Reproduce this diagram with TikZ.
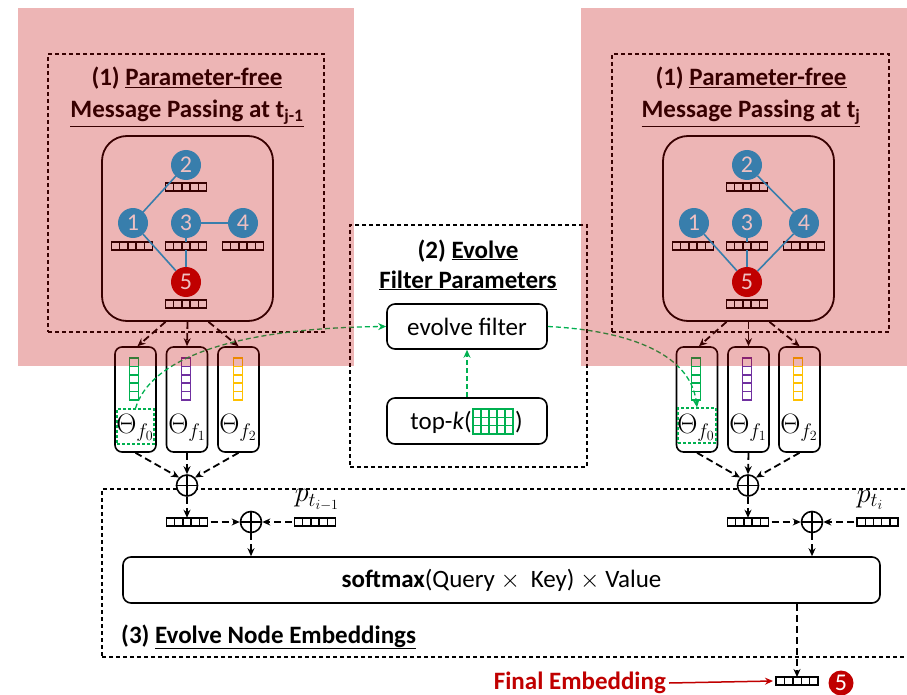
\RequirePackage{fix-cm}
\documentclass[tikz,border=0pt]{standalone}
\usepackage{fontspec}
\setmainfont{Carlito}
\usetikzlibrary{arrows.meta,calc}
\definecolor{nred}{RGB}{192,0,0}
\definecolor{nblue}{RGB}{56,126,172}
\definecolor{npink}{RGB}{238,192,194}
\definecolor{fgreen}{RGB}{0,176,80}
\definecolor{fpurple}{RGB}{112,48,160}
\definecolor{fgold}{RGB}{255,192,0}
\newcommand{\fsz}{\fontsize{25}{30}\selectfont}
\newcommand{\msz}{\fontsize{28}{32}\selectfont}
\newcommand{\uln}[1]{\underline{#1}}
\tikzset{
  dbox/.style={draw, dash pattern=on 4pt off 3pt, line width=1.2pt, inner sep=0pt},
  gbox/.style={draw, line width=1.8pt, rounded corners=25pt, inner sep=0pt},
  rbox/.style={draw, line width=1.6pt, rounded corners=8pt, inner sep=0pt, font=\fsz},
  ttl/.style={font=\fsz\bfseries, inner sep=0pt, anchor=base},
  gnode/.style={circle, inner sep=0pt, minimum size=30pt, fill=#1, font=\fontsize{24}{24}\selectfont},
  embar/.style={draw, fill=white, line width=1.6pt, minimum width=41pt, minimum height=8.5pt, inner sep=0pt, outer sep=0pt,
    path picture={\foreach \k in {1,2,3,4}{\draw[line width=1.4pt] ($(path picture bounding box.south west)!\k/5!(path picture bounding box.south east)$) -- ($(path picture bounding box.north west)!\k/5!(path picture bounding box.north east)$);}}},
  vbar/.style={draw=#1, fill=white, line width=1.5pt, minimum width=9pt, minimum height=42pt, inner sep=0pt,
    path picture={\foreach \k in {1,2,3,4}{\draw[#1, line width=1.5pt] ($(path picture bounding box.north west)!\k/5!(path picture bounding box.south west)$) -- ($(path picture bounding box.north east)!\k/5!(path picture bounding box.south east)$);}}},
  ggrid/.style={draw=fgreen, fill=white, line width=1.5pt, minimum width=40pt, minimum height=25pt, inner sep=0pt,
    path picture={\foreach \k in {1,2,3,4}{\draw[fgreen, line width=1.5pt] ($(path picture bounding box.south west)!\k/5!(path picture bounding box.south east)$) -- ($(path picture bounding box.north west)!\k/5!(path picture bounding box.north east)$);}
    \foreach \k in {1,2}{\draw[fgreen, line width=1.5pt] ($(path picture bounding box.north west)!\k/3!(path picture bounding box.south west)$) -- ($(path picture bounding box.north east)!\k/3!(path picture bounding box.south east)$);}}},
  fbox/.style={draw, line width=1.6pt, rounded corners=7pt, minimum width=41pt, minimum height=105pt, inner sep=0pt},
  gdbox/.style={draw=fgreen, dash pattern=on 3pt off 2pt, line width=1.3pt, inner sep=0pt},
  oplus/.style={circle, draw, fill=white, line width=1.6pt, minimum size=21pt, inner sep=0pt,
    path picture={\draw[line width=1.4pt] (path picture bounding box.north) -- (path picture bounding box.south) (path picture bounding box.west) -- (path picture bounding box.east);}},
  darr/.style={line width=1.8pt, dash pattern=on 7pt off 4pt, -{Stealth[length=8pt,width=7pt]}},
  garr/.style={draw=fgreen, line width=1.3pt, dash pattern=on 5pt off 3pt, -{Stealth[length=8pt,width=7pt]}},
  gedge/.style={draw=nblue, line width=1.6pt},
  mth/.style={font=\msz, inner sep=0pt},
}
\begin{document}
\begin{tikzpicture}[x=1pt,y=-1pt]
\useasboundingbox (0,0) rectangle (907,695);

% ---------- left section (1)
\node[dbox, minimum width=276pt, minimum height=278pt] (secL) at (186,193) {};
\node[ttl] (tL1) at (187,86) {(1) \uln{Parameter-free}};
\node[ttl] (tL2) at (187,118) {\uln{Message Passing at t\textsubscript{j-1}}};
\node[gbox, minimum width=171pt, minimum height=185pt] (gL) at (187.5,228.5) {};
\node[embar] (bL1) at (132,246) {};
\node[embar] (bL2) at (186,187) {};
\node[embar] (bL3) at (186,246) {};
\node[embar] (bL4) at (243,246) {};
\node[embar] (bL5) at (186,304) {};

\node[fbox] (fL0) at (135.5,399.5) {};
\node[fbox] (fL1) at (187,399.5) {};
\node[fbox] (fL2) at (238.5,399.5) {};
\node[vbar=fgreen] (vL0) at (134,379) {};
\node[vbar=fpurple] (vL1) at (186,379) {};
\node[vbar=fgold] (vL2) at (238,379) {};
\node[gdbox, minimum width=37pt, minimum height=35pt] (gbL) at (135.5,426.5) {};
\node[mth] (tL0) at (135,428) {$\Theta_{f_0}$};
\node[mth] (tLa) at (187,428) {$\Theta_{f_1}$};
\node[mth] (tLb) at (238,428) {$\Theta_{f_2}$};

\draw[darr] ([xshift=-22pt]gL.south) -- ([xshift=2pt]fL0.north);
\draw[darr] (gL.south) -- (fL1.north);
\draw[darr] ([xshift=21pt]gL.south) -- (fL2.north);

% ---------- right section (1)
\node[dbox, minimum width=277pt, minimum height=278pt] (secR) at (750.5,193) {};
\node[ttl] (tR1) at (751,86) {(1) \uln{Parameter-free}};
\node[ttl] (tR2) at (751,118) {\uln{Message Passing at t\textsubscript{j}}};
\node[gbox, minimum width=171pt, minimum height=185pt] (gR) at (748.5,228.5) {};
\node[embar] (bR1) at (693,246) {};
\node[embar] (bR2) at (747,187) {};
\node[embar] (bR3) at (747,246) {};
\node[embar] (bR4) at (804,246) {};
\node[embar] (bR5) at (747,304) {};

\node[fbox] (fR0) at (697,399.5) {};
\node[fbox] (fR1) at (748.5,399.5) {};
\node[fbox] (fR2) at (799.5,399.5) {};
\node[vbar=fgreen] (vR0) at (696,379) {};
\node[vbar=fpurple] (vR1) at (747,379) {};
\node[vbar=fgold] (vR2) at (798,379) {};
\node[gdbox, minimum width=38pt, minimum height=35pt] (gbR) at (697,425.5) {};
\node[mth] (tR0) at (696,428) {$\Theta_{f_0}$};
\node[mth] (tRa) at (748,428) {$\Theta_{f_1}$};
\node[mth] (tRb) at (799,428) {$\Theta_{f_2}$};

\draw[darr] ([xshift=-22pt]gR.south) -- ([xshift=2pt]fR0.north);
\draw[darr] (gR.south) -- (fR1.north);
\draw[darr] ([xshift=21pt]gR.south) -- (fR2.north);

% ---------- middle section (2)
\node[dbox, minimum width=237pt, minimum height=242pt] (secM) at (468.5,346) {};
\node[ttl] (tM1) at (468,258) {(2) \uln{Evolve}};
\node[ttl] (tM2) at (468,288) {\uln{Filter Parameters}};
\node[rbox, minimum width=160pt, minimum height=45pt] (ev) at (467,326.5) {evolve filter};
\node[rbox, minimum width=160pt, minimum height=46pt] (tk) at (467,421) {};
\node[font=\fsz, inner sep=0pt, anchor=base east] (tkt) at (472,429) {top-\textit{k}(};
\node[ggrid] (grid) at (493,421.5) {};
\node[font=\fsz, inner sep=0pt, anchor=base west] (tkp) at (515,429) {)};
\draw[garr] (tk.north) -- (ev.south);

% ---------- bottom section (3)
\node[dbox, minimum width=818pt, minimum height=168pt] (secB) at (511,573) {};
\node[ttl, anchor=base west] (tB) at (121,643) {(3) \uln{Evolve Node Embeddings}};
\node[rbox, minimum width=757pt, minimum height=46pt] (sm) at (501.5,580) {\textbf{softmax}(Query $\times$\hspace{5pt} Key) $\times$ Value};

% left aggregation
\node[oplus] (opL1) at (187,485.5) {};
\node[embar] (barL) at (187,522) {};
\node[oplus] (opL2) at (251,522) {};
\node[embar] (barLR) at (315,522) {};
\node[mth] (pL) at (317,500) {$p_{t_{i-1}}$};
\draw[darr] (fL0.south) -- (opL1.north west);
\draw[darr] (fL1.south) -- (opL1.north);
\draw[darr] (fL2.south) -- (opL1.north east);
\draw[darr] (opL1.south) -- (barL.north);
\draw[darr] ([xshift=3pt]barL.east) -- (opL2.west);
\draw[darr] ([xshift=-3pt]barLR.west) -- (opL2.east);
\draw[darr] (opL2.south) -- (opL2 |- sm.north);

% right aggregation
\node[oplus] (opR1) at (748,485.5) {};
\node[embar] (barR) at (748,522) {};
\node[oplus] (opR2) at (812,522) {};
\node[embar] (barRR) at (877.5,522) {};
\node[mth] (pR) at (870,500) {$p_{t_{i}}$};
\draw[darr] (fR0.south) -- (opR1.north west);
\draw[darr] (fR1.south) -- (opR1.north);
\draw[darr] (fR2.south) -- (opR1.north east);
\draw[darr] (opR1.south) -- (barR.north);
\draw[darr] ([xshift=3pt]barR.east) -- (opR2.west);
\draw[darr] ([xshift=-3pt]barRR.west) -- (opR2.east);
\draw[darr] (opR2.south) -- (opR2 |- sm.north);

% final embedding
\node[embar, minimum width=42pt, minimum height=8pt] (barF) at (797,681) {};
\node[font=\fsz\bfseries, text=nred, inner sep=0pt, anchor=east] (fe) at (666,683) {Final Embedding};
\node[gnode=nred, minimum size=25pt, text=white] (fn5) at (841,683) {5};
\draw[darr] (sm.south -| barF.north) -- (barF.north);
\draw[nred, line width=1.5pt, -{Stealth[length=8pt,width=7pt]}] ([xshift=3pt]fe.east) -- ([xshift=-3pt]barF.west);

% green evolution connectors
\draw[garr] (gbL.north) .. controls (150,360) and (230,328) .. (ev.west);
\draw[garr] (ev.east) .. controls (620,330) and (690,350) .. (gbR.north);

% pink overlays
\fill[nred, opacity=0.29] (18,8) rectangle (354,366);
\fill[nred, opacity=0.29] (581,8) rectangle (910,366);

% graphs (drawn over overlay)
\draw[gedge] (133,223) -- (186,165);
\node[gnode=nblue, text=npink] (nL1) at (133,223) {1};
\node[gnode=nblue, text=npink] (nL2) at (186,165) {2};
\node[gnode=nblue, text=npink] (nL3) at (186,223) {3};
\node[gnode=nblue, text=npink] (nL4) at (243,223) {4};
\node[gnode=nred, text=npink] (nL5) at (186,282) {5};
\draw[gedge] (nL1) -- (nL5);
\draw[gedge] (nL3) -- (nL4);
\draw[gedge] (nL3) -- (bL3.north);
\draw[gedge] (bL3.south) -- (nL5);

\node[gnode=nblue, text=npink] (nR1) at (694,223) {1};
\node[gnode=nblue, text=npink] (nR2) at (747,165) {2};
\node[gnode=nblue, text=npink] (nR3) at (747,223) {3};
\node[gnode=nblue, text=npink] (nR4) at (804,223) {4};
\node[gnode=nred, text=npink] (nR5) at (747,282) {5};
\draw[gedge] (nR2) -- (nR4);
\draw[gedge] (nR1) -- (nR5);
\draw[gedge] (nR4) -- (nR5);
\draw[gedge] (nR3) -- (bR3.north);
\draw[gedge] (bR3.south) -- (nR5);
\end{tikzpicture}
\end{document}
